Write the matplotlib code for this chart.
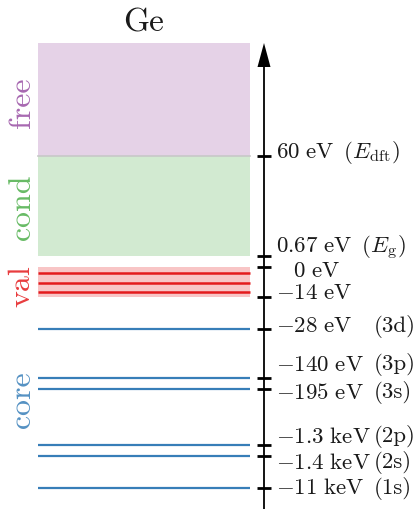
import matplotlib
matplotlib.use("Agg")
import matplotlib.pyplot as plt

plt.rcParams['font.family'] = 'serif'
plt.rcParams['font.serif'] = ['cmr10']
plt.rcParams['mathtext.fontset'] = 'cm'
plt.rcParams['axes.unicode_minus'] = False

# band / level data
element = 'Ge'
band_names = ['free', 'cond', 'val', 'core']
band_colors = ['#984ea3', '#4daf4a', '#e41a1c', '#377eb8']
edge_energies = [60, 0.67, 0, -14]          # eV
edge_notes = [r'$(E_\mathrm{dft})$', r'$(E_\mathrm{g})$', '', '']
core_energies = [-28, -140, -195, -1300, -1400, -11000]   # eV
core_orbitals = ['3d', '3p', '3s', '2p', '2s', '1s']

# schematic layout (pixel rows, not to scale)
edge_y = [156, 256, 267, 297]
core_y = [329, 378, 389, 445, 456, 488]
val_lines_y = [273, 283, 292]
edge_dy = [-3, -8, 4, -4]
core_dy = [-3, -13, 4, -8, 7, 0]
name_y = [103, 207, 286, 400]
top_y = 43
x0, x1, xaxis = 38, 250, 264


def fmt(e):
    if abs(e) >= 1000:
        s = '%g' % (abs(e) / 1000) + r'\ \mathrm{keV}'
    else:
        s = '%g' % abs(e) + r'\ \mathrm{eV}'
    return '$' + ('-' if e < 0 else '') + s + '$'


fig = plt.figure(figsize=(4.17, 5.09), dpi=100)
ax = fig.add_axes([0, 0, 1, 1])
ax.set_xlim(0, 417)
ax.set_ylim(509, 0)
ax.axis('off')

# bands
ax.fill_between([x0, x1], top_y, edge_y[0], color=band_colors[0], alpha=0.25, lw=0)
ax.fill_between([x0, x1], edge_y[0], edge_y[1], color=band_colors[1], alpha=0.25, lw=0)
ax.plot([x0, x1], [edge_y[0], edge_y[0]], color='#c8c8c8', lw=1.2)
ax.fill_between([x0, x1], edge_y[2], edge_y[3], color=band_colors[2], alpha=0.25, lw=0)
ax.hlines(val_lines_y, x0, x1, color=band_colors[2], lw=1.8)
ax.hlines(core_y, x0, x1, color=band_colors[3], lw=1.6)

# energy axis
ax.arrow(xaxis, 509, 0, top_y - 509, width=1.8, head_width=13, head_length=24,
         length_includes_head=True, color='k', lw=0)
ax.hlines(edge_y + core_y, xaxis - 7, xaxis + 7, color='k', lw=2)

# labels
for e, note, y, dy in zip(edge_energies, edge_notes, edge_y, edge_dy):
    xt = 293 if e == 0 else 276
    txt = fmt(e) + (r' $\,$' + note if note else '')
    ax.text(xt, y + dy, txt, fontsize=16.5, ha='left', va='center', color='#1a1a1a')
for e, orb, y, dy in zip(core_energies, core_orbitals, core_y, core_dy):
    ax.text(276, y + dy, fmt(e), fontsize=16.5, ha='left', va='center', color='#1a1a1a')
    ax.text(374, y + dy, '(' + orb + ')', fontsize=16.5, ha='left', va='center',
            color='#1a1a1a')

for name, c, y in zip(band_names, band_colors, name_y):
    ax.text(22, y, name, color=c, alpha=0.85, fontsize=23, rotation=90,
            ha='center', va='center')

ax.text((x0 + x1) / 2, 23, element, fontsize=24, ha='center', va='center',
        color='#1a1a1a')

fig.savefig('out.png', dpi=100)
